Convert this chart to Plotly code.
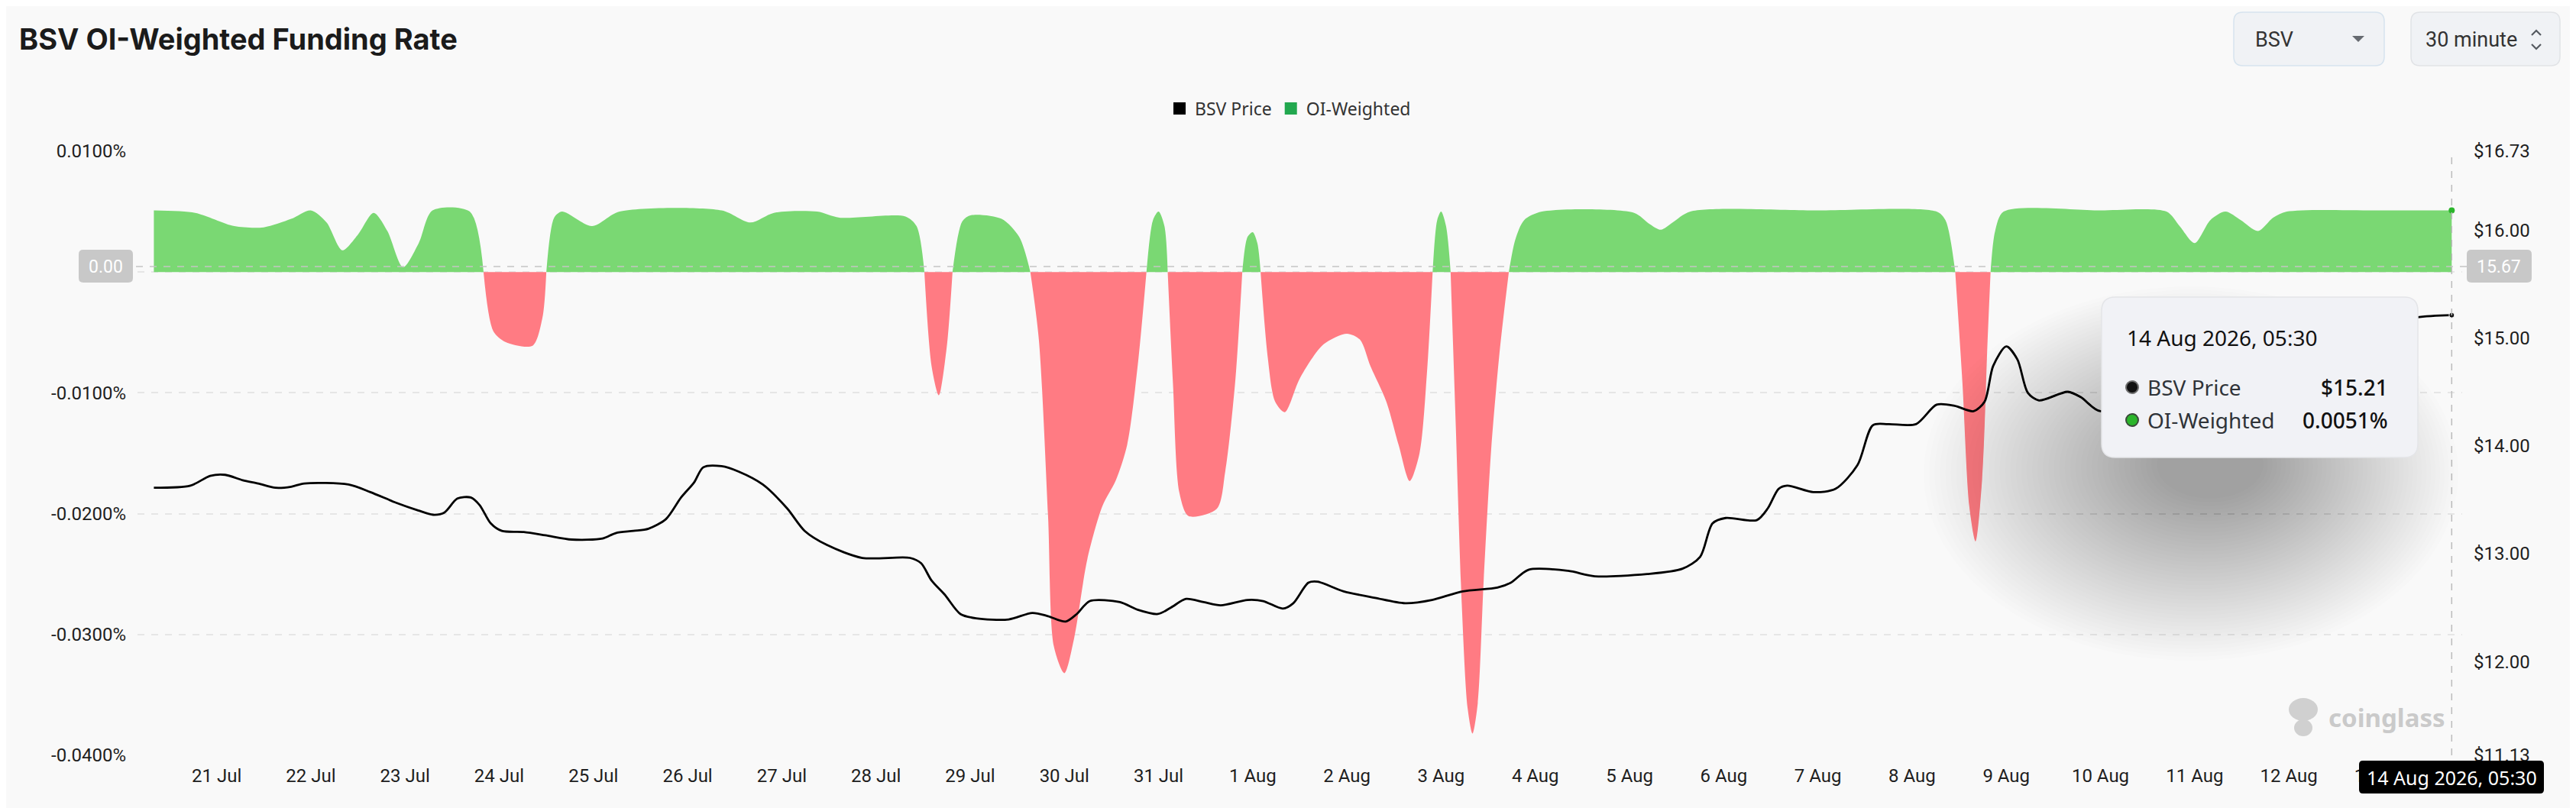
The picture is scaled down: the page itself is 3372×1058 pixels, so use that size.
import plotly.graph_objects as go

YEAR = 2026

# ---------------- data ----------------
oi_time = [
    "07-20 20:00", "07-21 06:30", "07-21 16:30", "07-22 00:00", "07-22 07:00", "07-22 12:00",
    "07-22 16:00", "07-22 20:00", "07-23 00:00", "07-23 04:00", "07-23 07:30", "07-23 11:30",
    "07-23 15:30", "07-23 19:00", "07-24 04:30", "07-24 08:00", "07-24 10:30", "07-24 13:40",
    "07-24 20:30", "07-24 23:00", "07-25 00:00", "07-25 02:00", "07-25 04:00", "07-25 11:40",
    "07-25 18:40", "07-26 20:40", "07-27 04:00", "07-27 10:00", "07-27 21:00", "07-28 02:40",
    "07-28 19:30", "07-28 22:20", "07-29 00:20", "07-29 02:10", "07-29 04:00", "07-29 06:00",
    "07-29 07:30", "07-29 10:00", "07-29 12:15", "07-29 20:00", "07-30 00:30", "07-30 03:20",
    "07-30 05:30", "07-30 07:50", "07-30 09:20", "07-30 12:00", "07-30 14:30", "07-30 17:50",
    "07-30 21:40", "07-31 01:10", "07-31 04:00", "07-31 06:40", "07-31 08:55", "07-31 10:35",
    "07-31 12:00", "07-31 13:30", "07-31 14:20", "07-31 15:40", "07-31 17:20", "07-31 19:40",
    "08-01 02:50", "08-01 05:00", "08-01 07:30", "08-01 09:20", "08-01 10:40", "08-01 12:00",
    "08-01 13:10", "08-01 14:00", "08-01 15:50", "08-01 17:40", "08-01 20:10", "08-02 00:00",
    "08-02 06:00", "08-02 12:00", "08-02 15:20", "08-02 18:00", "08-02 22:00", "08-03 01:10",
    "08-03 04:00", "08-03 06:30", "08-03 08:25", "08-03 09:50", "08-03 11:00", "08-03 12:00",
    "08-03 13:15", "08-03 14:25", "08-03 15:45", "08-03 17:15", "08-03 18:45", "08-03 20:00",
    "08-03 21:20", "08-03 22:50", "08-04 00:45", "08-04 03:00", "08-04 05:15", "08-04 06:55",
    "08-04 09:10", "08-04 13:40", "08-05 13:10", "08-05 17:00", "08-05 20:00", "08-05 23:00",
    "08-06 03:30", "08-07 12:00", "08-08 18:15", "08-08 20:30", "08-08 23:00", "08-09 00:50",
    "08-09 02:35", "08-09 04:10", "08-09 05:50", "08-09 07:15", "08-09 08:00", "08-09 09:10",
    "08-09 11:20", "08-10 12:00", "08-11 04:50", "08-11 08:10", "08-11 12:00", "08-11 16:00",
    "08-11 19:50", "08-11 23:45", "08-12 04:10", "08-12 08:00", "08-12 11:30", "08-13 12:00",
    "08-14 05:30",
]
oi_value = [
    0.0051, 0.0049, 0.0038, 0.0037, 0.0044, 0.0051,
    0.0041, 0.0018, 0.0031, 0.0049, 0.0034, 0.0004,
    0.0024, 0.0051, 0.0050, 0.0, -0.0049, -0.0058,
    -0.0061, -0.0038, 0.0, 0.0045, 0.0050, 0.0038,
    0.0050, 0.0051, 0.0041, 0.0049, 0.0050, 0.0045,
    0.0046, 0.0038, 0.0, -0.0078, -0.0102, -0.0063,
    0.0, 0.0042, 0.0047, 0.0044, 0.0029, 0.0,
    -0.0056, -0.0201, -0.0310, -0.0332, -0.0303, -0.0238,
    -0.0194, -0.0172, -0.0143, -0.0078, 0.0, 0.0043,
    0.0050, 0.0038, 0.0, -0.0092, -0.0183, -0.0202,
    -0.0196, -0.0165, -0.0092, 0.0, 0.0029, 0.0033,
    0.0024, 0.0, -0.0071, -0.0107, -0.0116, -0.0088,
    -0.0060, -0.0051, -0.0056, -0.0078, -0.0107, -0.0143,
    -0.0173, -0.0150, -0.0082, 0.0, 0.0043, 0.0050,
    0.0038, 0.0, -0.0129, -0.0274, -0.0361, -0.0382,
    -0.0357, -0.0256, -0.0147, -0.0063, 0.0, 0.0027,
    0.0043, 0.0050, 0.0049, 0.0040, 0.0035, 0.0041,
    0.0050, 0.0051, 0.0050, 0.0043, 0.0, -0.0092,
    -0.0194, -0.0223, -0.0172, -0.0056, 0.0, 0.0034,
    0.0050, 0.0051, 0.0050, 0.0038, 0.0024, 0.0043,
    0.0050, 0.0043, 0.0034, 0.0045, 0.0050, 0.0051,
    0.0051,
]

price_time = [
    "07-20 20:00", "07-21 05:20", "07-21 10:20", "07-21 14:10", "07-21 18:40", "07-21 22:35",
    "07-22 03:00", "07-22 07:00", "07-22 10:20", "07-22 21:35", "07-23 03:10", "07-23 09:50",
    "07-23 15:20", "07-23 19:10", "07-23 22:00", "07-24 01:20", "07-24 04:45", "07-24 07:00",
    "07-24 09:50", "07-24 12:40", "07-24 18:15", "07-24 23:45", "07-25 06:30", "07-25 14:20",
    "07-25 17:40", "07-25 22:10", "07-26 02:00", "07-26 06:30", "07-26 10:20", "07-26 13:40",
    "07-26 16:00", "07-26 20:40", "07-27 01:00", "07-27 07:10", "07-27 13:20", "07-27 17:50",
    "07-27 23:30", "07-28 08:30", "07-28 20:40", "07-28 23:30", "07-29 02:10", "07-29 05:30",
    "07-29 09:30", "07-29 13:30", "07-29 21:50", "07-30 03:50", "07-30 07:50", "07-30 12:20",
    "07-30 15:10", "07-30 18:30", "07-31 02:10", "07-31 06:40", "07-31 11:50", "07-31 15:10",
    "07-31 19:00", "07-31 23:30", "08-01 03:50", "08-01 10:40", "08-01 14:40", "08-01 19:40",
    "08-01 22:20", "08-02 02:10", "08-02 04:30", "08-02 11:10", "08-02 19:10", "08-03 02:50",
    "08-03 09:40", "08-03 17:30", "08-04 02:20", "08-04 05:45", "08-04 10:15", "08-04 20:20",
    "08-05 03:10", "08-05 16:30", "08-06 01:30", "08-06 06:00", "08-06 09:10", "08-06 12:30",
    "08-06 20:25", "08-06 23:15", "08-07 02:00", "08-07 04:10", "08-07 10:50", "08-07 16:30",
    "08-07 22:05", "08-08 02:00", "08-08 06:00", "08-08 13:00", "08-08 18:15", "08-08 22:50",
    "08-09 03:40", "08-09 06:30", "08-09 08:40", "08-09 12:00", "08-09 14:50", "08-09 17:30",
    "08-09 20:20", "08-10 03:40", "08-10 07:00", "08-10 12:00", "08-11 00:00", "08-12 00:00",
    "08-13 00:00", "08-13 20:30", "08-14 05:30",
]
price_value = [
    13.61, 13.63, 13.72, 13.73, 13.68, 13.65,
    13.61, 13.62, 13.65, 13.64, 13.57, 13.47,
    13.40, 13.36, 13.38, 13.51, 13.52, 13.45,
    13.28, 13.21, 13.20, 13.17, 13.13, 13.14,
    13.19, 13.21, 13.23, 13.32, 13.52, 13.66,
    13.80, 13.81, 13.76, 13.64, 13.42, 13.21,
    13.08, 12.96, 12.96, 12.91, 12.75, 12.62,
    12.44, 12.40, 12.39, 12.45, 12.42, 12.37,
    12.44, 12.56, 12.55, 12.48, 12.44, 12.50,
    12.58, 12.55, 12.52, 12.57, 12.56, 12.49,
    12.54, 12.73, 12.74, 12.65, 12.59, 12.54,
    12.57, 12.65, 12.685, 12.73, 12.85, 12.84,
    12.79, 12.81, 12.86, 12.97, 13.28, 13.33,
    13.31, 13.42, 13.60, 13.63, 13.57, 13.60,
    13.82, 14.19, 14.20, 14.20, 14.38, 14.37,
    14.32, 14.41, 14.74, 14.92, 14.80, 14.49,
    14.42, 14.50, 14.45, 14.32, 14.55, 14.85,
    15.05, 15.19, 15.21,
]

day_dates = ["07-21", "07-22", "07-23", "07-24", "07-25", "07-26", "07-27", "07-28", "07-29",
             "07-30", "07-31", "08-01", "08-02", "08-03", "08-04", "08-05", "08-06", "08-07",
             "08-08", "08-09", "08-10", "08-11", "08-12", "08-13"]
day_labels = ["21 Jul", "22 Jul", "23 Jul", "24 Jul", "25 Jul", "26 Jul", "27 Jul", "28 Jul",
              "29 Jul", "30 Jul", "31 Jul", "1 Aug", "2 Aug", "3 Aug", "4 Aug", "5 Aug", "6 Aug",
              "7 Aug", "8 Aug", "9 Aug", "10 Aug", "11 Aug", "12 Aug", "13 Aug"]

rate_ticks = [0.01, 0.0, -0.01, -0.02, -0.03, -0.04]
rate_labels = ["0.0100%", "", "-0.0100%", "-0.0200%", "-0.0300%", "-0.0400%"]
price_ticks = [16.73, 16.00, 15.00, 14.00, 13.00, 12.00, 11.13]
price_labels = ["$16.73", "$16.00", "$15.00", "$14.00", "$13.00", "$12.00", "$11.13"]

title_text = "BSV OI-Weighted Funding Rate"
tooltip_time = "14 Aug 2026, 05:30"
cross_left_text = "0.00"
cross_right_text = "15.67"

# ---------------- helpers ----------------
def ts(s):
    return f"{YEAR}-{s[:5]} {s[6:]}"

oi_x = [ts(t) for t in oi_time]
price_x = [ts(t) for t in price_time]
oi_pos = [v if v >= 0 else None for v in oi_value]
oi_neg = [v if v <= 0 else None for v in oi_value]
tick_x = [f"{YEAR}-{d} 12:00" for d in day_dates]

W, H = 3372, 1058
PL, PR, PT, PB = 172, 3215, 190, 981


def px(x):
    return (x - PL) / (PR - PL)


def py(y):
    return (PB - y) / (PB - PT)


def rrect_path(x0, y0, x1, y1, r):
    pts = [
        ("M", [(x0 + r, y0)]), ("L", [(x1 - r, y0)]), ("Q", [(x1, y0), (x1, y0 + r)]),
        ("L", [(x1, y1 - r)]), ("Q", [(x1, y1), (x1 - r, y1)]), ("L", [(x0 + r, y1)]),
        ("Q", [(x0, y1), (x0, y1 - r)]), ("L", [(x0, y0 + r)]), ("Q", [(x0, y0), (x0 + r, y0)]),
    ]
    s = ""
    for cmd, ps in pts:
        s += cmd + " " + " ".join(f"{px(a):.6f},{py(b):.6f}" for a, b in ps) + " "
    return s + "Z"


def rrect(x0, y0, x1, y1, r, fill, line=None, lw=0, layer="above"):
    return dict(type="path", xref="paper", yref="paper", path=rrect_path(x0, y0, x1, y1, r),
                fillcolor=fill, line=dict(color=line or fill, width=lw), layer=layer)


def circle(cx, cy, rx, ry, fill, line=None, lw=0):
    return dict(type="circle", xref="paper", yref="paper",
                x0=px(cx - rx), x1=px(cx + rx), y0=py(cy + ry), y1=py(cy - ry),
                fillcolor=fill, line=dict(color=line or fill, width=lw), layer="above")


def text(x, y, s, size, color, anchor="left", family="Noto Sans", weight=None):
    f = dict(family=family, size=size, color=color)
    if weight:
        f["weight"] = weight
    return dict(x=px(x), y=py(y), xref="paper", yref="paper", text=s, showarrow=False,
                xanchor=anchor, yanchor="middle", font=f)


GREEN = "#7ad873"
RED = "#ff7b83"
AXIS_FONT = dict(family="Roboto", size=24, color="#1e1e1e")

fig = go.Figure()

fig.add_trace(go.Scatter(x=oi_x, y=oi_pos, mode="lines", line=dict(width=0, shape="spline", smoothing=0.8),
                         fill="tozeroy", fillcolor=GREEN, connectgaps=False, showlegend=False,
                         hoverinfo="skip"))
fig.add_trace(go.Scatter(x=oi_x, y=oi_neg, mode="lines", line=dict(width=0, shape="spline", smoothing=0.8),
                         fill="tozeroy", fillcolor=RED, connectgaps=False, showlegend=False,
                         hoverinfo="skip"))
fig.add_trace(go.Scatter(x=price_x, y=price_value, yaxis="y2", mode="lines",
                         line=dict(color="#000000", width=2.8, shape="spline", smoothing=0.8),
                         showlegend=False, hoverinfo="skip"))
fig.add_trace(go.Scatter(x=[price_x[-1]], y=[price_value[-1]], yaxis="y2", mode="markers",
                         marker=dict(size=7, color="#111111", line=dict(color="#ffffff", width=1)),
                         showlegend=False, hoverinfo="skip"))
fig.add_trace(go.Scatter(x=[oi_x[-1]], y=[oi_value[-1]], mode="markers",
                         marker=dict(size=8, color="#2bb52b"), showlegend=False, hoverinfo="skip"))

# legend entries
fig.add_trace(go.Scatter(x=[None], y=[None], mode="markers", name="BSV Price",
                         marker=dict(symbol="square", size=20, color="#000000")))
fig.add_trace(go.Scatter(x=[None], y=[None], mode="markers", name="OI-Weighted",
                         marker=dict(symbol="square", size=20, color="#22a84f")))

shapes = []
# crosshair
shapes.append(dict(type="line", xref="x", yref="paper", x0=oi_x[-1], x1=oi_x[-1], y0=0, y1=1,
                   line=dict(color="#bcbcbc", width=1.5, dash="dash"), layer="above"))
shapes.append(dict(type="line", xref="paper", yref="paper", x0=px(PL - 20), x1=px(PR + 8),
                   y0=py(341), y1=py(341), line=dict(color="#c4c4c4", width=1.5, dash="dash"),
                   layer="above"))
# tooltip shadow (soft stacked ellipses)
N = 44
for i in range(N):
    k = i / (N - 1)
    rx = 350 - 280 * k
    ry = 245 - 200 * k
    shapes.append(circle(2860 + 25 * k, 612 - 12 * k, rx, ry, "rgba(0,0,0,0.0075)"))
# tooltip box
shapes.append(rrect(2743, 381, 3157, 591, 18, "#f1f2f6", "#e4e5e8", 1.5))
shapes.append(circle(2783, 499, 8, 8, "#111111", "#6f6f6f", 2))
shapes.append(circle(2783, 542, 8, 8, "#2bb52b", "#3a4a3a", 2))
# crosshair labels
shapes.append(rrect(95, 319, 166, 362, 6, "#c8c8c8"))
shapes.append(rrect(3221, 319, 3306, 362, 6, "#c8c8c8"))
shapes.append(rrect(3080, 988, 3322, 1031, 5, "#000000"))
# header controls
shapes.append(rrect(2916, 8, 3113, 78, 12, "#f0f2f5", "#d6e3ee", 1.5))
shapes.append(rrect(3148, 8, 3343, 78, 12, "#f0f2f5", "#e1e3e6", 1.5))
shapes.append(dict(type="path", xref="paper", yref="paper",
                   path=f"M {px(3071)},{py(39)} L {px(3087)},{py(39)} L {px(3079)},{py(47)} Z",
                   fillcolor="#666a70", line=dict(width=0), layer="above"))
shapes.append(dict(type="path", xref="paper", yref="paper",
                   path=f"M {px(3306)},{py(38)} L {px(3312)},{py(32)} L {px(3318)},{py(38)}",
                   line=dict(color="#555a60", width=2.2), layer="above"))
shapes.append(dict(type="path", xref="paper", yref="paper",
                   path=f"M {px(3306)},{py(50)} L {px(3312)},{py(56)} L {px(3318)},{py(50)}",
                   line=dict(color="#555a60", width=2.2), layer="above"))
# watermark mascot
shapes.append(circle(3007, 921, 19, 15, "#d0d0d0"))
shapes.append(circle(3007, 945, 12, 11, "#d0d0d0"))
# right-edge widget
shapes.append(rrect(3359, 688, 3400, 806, 12, "#ffffff", "#dcdcdc", 1.5))

annotations = [
    text(2774, 434, tooltip_time, 28, "#111111"),
    text(2801, 499, "BSV Price", 28, "#2f3338"),
    text(3120, 499, f"${price_value[-1]:.2f}", 28, "#111111", anchor="right", weight=500),
    text(2801, 542, "OI-Weighted", 28, "#2f3338"),
    text(3120, 542, f"{oi_value[-1]:.4f}%", 28, "#111111", anchor="right", weight=500),
    text(130.5, 341, cross_left_text, 23, "#ffffff", anchor="center", family="Roboto"),
    text(3263, 341, cross_right_text, 23, "#ffffff", anchor="center", family="Roboto"),
    text(3201, 1010, tooltip_time, 25, "#ffffff", anchor="center"),
    text(2942, 44, "BSV", 27, "#333333", family="Roboto"),
    text(3165, 44, "30 minute", 27, "#333333", family="Roboto"),
    text(3038, 931, "coinglass", 33, "#cacaca", family="Noto Sans", weight=700),
]

fig.update_layout(
    width=W, height=H,
    margin=dict(l=PL, r=W - PR, t=PT, b=H - PB, autoexpand=False),
    paper_bgcolor="#f9f9f9", plot_bgcolor="#f9f9f9",
    title=dict(text=title_text, xref="container", yref="container", x=17 / W, xanchor="left",
               y=1 - 44 / H, yanchor="middle",
               font=dict(family="Inter", size=38, color="#1b1b1b", weight=700)),
    legend=dict(orientation="h", x=px(1680), xanchor="center", y=py(134), yanchor="middle",
                font=dict(family="Noto Sans", size=23, color="#333333"), bgcolor="rgba(0,0,0,0)",
                itemwidth=30, tracegroupgap=0),
    xaxis=dict(type="date", range=[f"{YEAR}-07-20 15:50", f"{YEAR}-08-14 08:10"],
               tickvals=tick_x, ticktext=day_labels, showgrid=False, zeroline=False,
               showline=False, ticks="", tickfont=AXIS_FONT, ticklabelstandoff=10),
    yaxis=dict(range=[-0.04, 0.01], tickvals=rate_ticks, ticktext=rate_labels, showgrid=True,
               gridcolor="#e6e6e6", griddash="dash", gridwidth=1.5, zeroline=False, showline=False,
               ticks="", tickfont=AXIS_FONT, ticklabelstandoff=14),
    yaxis2=dict(range=[11.13, 16.73], overlaying="y", side="right", tickvals=price_ticks,
                ticktext=price_labels, showgrid=False, zeroline=False, showline=False, ticks="",
                tickfont=AXIS_FONT, ticklabelstandoff=14),
    shapes=shapes,
    annotations=annotations,
    hovermode=False,
)

fig.write_html("out.html")
